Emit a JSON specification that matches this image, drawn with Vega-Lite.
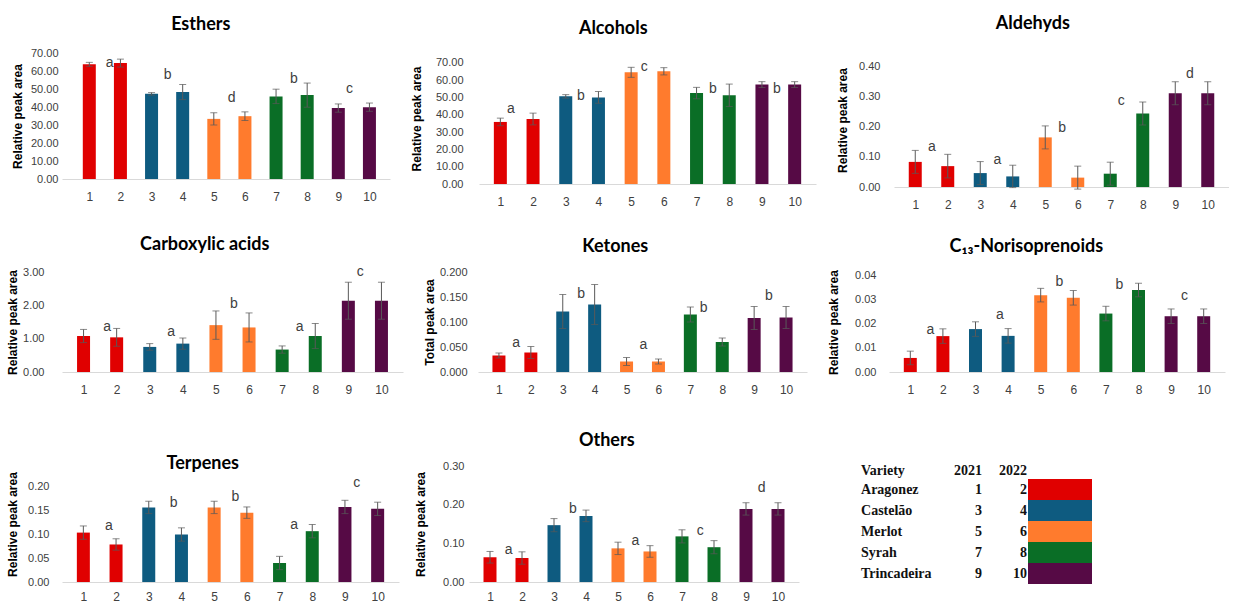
{
"$schema": "https://vega.github.io/schema/vega-lite/v6.json",
"padding": {"left": 6, "top": 15, "right": 0, "bottom": 0},
"background": "white",
"datasets": {
"bars": [
{"g":"Esthers","s":1,"v":63.7,"e":1.1,"variety":"Aragonez"},{"g":"Esthers","s":2,"v":64.4,"e":2.2,"variety":"Aragonez"},{"g":"Esthers","s":3,"v":47.3,"e":0.7,"variety":"Castelão"},{"g":"Esthers","s":4,"v":48.3,"e":4.2,"variety":"Castelão"},{"g":"Esthers","s":5,"v":33.4,"e":3.4,"variety":"Merlot"},{"g":"Esthers","s":6,"v":34.9,"e":2.4,"variety":"Merlot"},{"g":"Esthers","s":7,"v":45.9,"e":4.0,"variety":"Syrah"},{"g":"Esthers","s":8,"v":46.6,"e":6.7,"variety":"Syrah"},{"g":"Esthers","s":9,"v":39.4,"e":2.3,"variety":"Trincadeira"},{"g":"Esthers","s":10,"v":39.9,"e":2.3,"variety":"Trincadeira"},
{"g":"Alcohols","s":1,"v":35.9,"e":2.2,"variety":"Aragonez"},{"g":"Alcohols","s":2,"v":37.6,"e":3.4,"variety":"Aragonez"},{"g":"Alcohols","s":3,"v":50.7,"e":1.0,"variety":"Castelão"},{"g":"Alcohols","s":4,"v":50.1,"e":3.4,"variety":"Castelão"},{"g":"Alcohols","s":5,"v":64.6,"e":2.9,"variety":"Merlot"},{"g":"Alcohols","s":6,"v":65.2,"e":2.1,"variety":"Merlot"},{"g":"Alcohols","s":7,"v":52.6,"e":3.3,"variety":"Syrah"},{"g":"Alcohols","s":8,"v":51.3,"e":6.5,"variety":"Syrah"},{"g":"Alcohols","s":9,"v":57.5,"e":1.7,"variety":"Trincadeira"},{"g":"Alcohols","s":10,"v":57.5,"e":1.7,"variety":"Trincadeira"},
{"g":"Aldehyds","s":1,"v":0.083,"e":0.038,"variety":"Aragonez"},{"g":"Aldehyds","s":2,"v":0.069,"e":0.039,"variety":"Aragonez"},{"g":"Aldehyds","s":3,"v":0.046,"e":0.038,"variety":"Castelão"},{"g":"Aldehyds","s":4,"v":0.035,"e":0.037,"variety":"Castelão"},{"g":"Aldehyds","s":5,"v":0.164,"e":0.038,"variety":"Merlot"},{"g":"Aldehyds","s":6,"v":0.031,"e":0.038,"variety":"Merlot"},{"g":"Aldehyds","s":7,"v":0.044,"e":0.038,"variety":"Syrah"},{"g":"Aldehyds","s":8,"v":0.243,"e":0.038,"variety":"Syrah"},{"g":"Aldehyds","s":9,"v":0.31,"e":0.038,"variety":"Trincadeira"},{"g":"Aldehyds","s":10,"v":0.31,"e":0.038,"variety":"Trincadeira"},
{"g":"Carboxylic","s":1,"v":1.09,"e":0.2,"variety":"Aragonez"},{"g":"Carboxylic","s":2,"v":1.05,"e":0.27,"variety":"Aragonez"},{"g":"Carboxylic","s":3,"v":0.76,"e":0.1,"variety":"Castelão"},{"g":"Carboxylic","s":4,"v":0.86,"e":0.17,"variety":"Castelão"},{"g":"Carboxylic","s":5,"v":1.42,"e":0.43,"variety":"Merlot"},{"g":"Carboxylic","s":6,"v":1.35,"e":0.44,"variety":"Merlot"},{"g":"Carboxylic","s":7,"v":0.68,"e":0.11,"variety":"Syrah"},{"g":"Carboxylic","s":8,"v":1.09,"e":0.38,"variety":"Syrah"},{"g":"Carboxylic","s":9,"v":2.16,"e":0.56,"variety":"Trincadeira"},{"g":"Carboxylic","s":10,"v":2.16,"e":0.56,"variety":"Trincadeira"},
{"g":"Ketones","s":1,"v":0.033,"e":0.005,"variety":"Aragonez"},{"g":"Ketones","s":2,"v":0.039,"e":0.012,"variety":"Aragonez"},{"g":"Ketones","s":3,"v":0.121,"e":0.034,"variety":"Castelão"},{"g":"Ketones","s":4,"v":0.135,"e":0.04,"variety":"Castelão"},{"g":"Ketones","s":5,"v":0.021,"e":0.008,"variety":"Merlot"},{"g":"Ketones","s":6,"v":0.021,"e":0.005,"variety":"Merlot"},{"g":"Ketones","s":7,"v":0.115,"e":0.015,"variety":"Syrah"},{"g":"Ketones","s":8,"v":0.06,"e":0.008,"variety":"Syrah"},{"g":"Ketones","s":9,"v":0.108,"e":0.023,"variety":"Trincadeira"},{"g":"Ketones","s":10,"v":0.109,"e":0.022,"variety":"Trincadeira"},
{"g":"C13","s":1,"v":0.0058,"e":0.0028,"variety":"Aragonez"},{"g":"C13","s":2,"v":0.0148,"e":0.003,"variety":"Aragonez"},{"g":"C13","s":3,"v":0.0177,"e":0.003,"variety":"Castelão"},{"g":"C13","s":4,"v":0.0149,"e":0.003,"variety":"Castelão"},{"g":"C13","s":5,"v":0.0317,"e":0.0028,"variety":"Merlot"},{"g":"C13","s":6,"v":0.0306,"e":0.003,"variety":"Merlot"},{"g":"C13","s":7,"v":0.0241,"e":0.003,"variety":"Syrah"},{"g":"C13","s":8,"v":0.0338,"e":0.0028,"variety":"Syrah"},{"g":"C13","s":9,"v":0.023,"e":0.003,"variety":"Trincadeira"},{"g":"C13","s":10,"v":0.023,"e":0.003,"variety":"Trincadeira"},
{"g":"Terpenes","s":1,"v":0.104,"e":0.014,"variety":"Aragonez"},{"g":"Terpenes","s":2,"v":0.079,"e":0.012,"variety":"Aragonez"},{"g":"Terpenes","s":3,"v":0.157,"e":0.013,"variety":"Castelão"},{"g":"Terpenes","s":4,"v":0.1,"e":0.014,"variety":"Castelão"},{"g":"Terpenes","s":5,"v":0.157,"e":0.013,"variety":"Merlot"},{"g":"Terpenes","s":6,"v":0.146,"e":0.012,"variety":"Merlot"},{"g":"Terpenes","s":7,"v":0.04,"e":0.014,"variety":"Syrah"},{"g":"Terpenes","s":8,"v":0.107,"e":0.014,"variety":"Syrah"},{"g":"Terpenes","s":9,"v":0.158,"e":0.014,"variety":"Trincadeira"},{"g":"Terpenes","s":10,"v":0.154,"e":0.014,"variety":"Trincadeira"},
{"g":"Others","s":1,"v":0.064,"e":0.015,"variety":"Aragonez"},{"g":"Others","s":2,"v":0.062,"e":0.016,"variety":"Aragonez"},{"g":"Others","s":3,"v":0.147,"e":0.017,"variety":"Castelão"},{"g":"Others","s":4,"v":0.171,"e":0.015,"variety":"Castelão"},{"g":"Others","s":5,"v":0.087,"e":0.016,"variety":"Merlot"},{"g":"Others","s":6,"v":0.079,"e":0.015,"variety":"Merlot"},{"g":"Others","s":7,"v":0.118,"e":0.017,"variety":"Syrah"},{"g":"Others","s":8,"v":0.09,"e":0.017,"variety":"Syrah"},{"g":"Others","s":9,"v":0.189,"e":0.016,"variety":"Trincadeira"},{"g":"Others","s":10,"v":0.189,"e":0.016,"variety":"Trincadeira"}
],
"letters": [
{"g":"Esthers","x":1.65,"y":64.4,"t":"a"},{"g":"Esthers","x":3.52,"y":58,"t":"b"},{"g":"Esthers","x":5.57,"y":45,"t":"d"},{"g":"Esthers","x":7.57,"y":55.3,"t":"b"},{"g":"Esthers","x":9.36,"y":50,"t":"c"},
{"g":"Alcohols","x":1.32,"y":43.6,"t":"a"},{"g":"Alcohols","x":3.46,"y":50.7,"t":"b"},{"g":"Alcohols","x":5.4,"y":67.7,"t":"c"},{"g":"Alcohols","x":7.5,"y":55.1,"t":"b"},{"g":"Alcohols","x":9.46,"y":55.1,"t":"b"},
{"g":"Aldehyds","x":1.51,"y":0.131,"t":"a"},{"g":"Aldehyds","x":3.53,"y":0.088,"t":"a"},{"g":"Aldehyds","x":5.52,"y":0.194,"t":"b"},{"g":"Aldehyds","x":7.34,"y":0.285,"t":"c"},{"g":"Aldehyds","x":9.45,"y":0.375,"t":"d"},
{"g":"Carboxylic","x":1.71,"y":1.37,"t":"a"},{"g":"Carboxylic","x":3.65,"y":1.2,"t":"a"},{"g":"Carboxylic","x":5.54,"y":2.06,"t":"b"},{"g":"Carboxylic","x":7.53,"y":1.37,"t":"a"},{"g":"Carboxylic","x":9.36,"y":3.02,"t":"c"},
{"g":"Ketones","x":1.54,"y":0.059,"t":"a"},{"g":"Ketones","x":3.58,"y":0.157,"t":"b"},{"g":"Ketones","x":5.53,"y":0.055,"t":"a"},{"g":"Ketones","x":7.42,"y":0.128,"t":"b"},{"g":"Ketones","x":9.46,"y":0.152,"t":"b"},
{"g":"C13","x":1.62,"y":0.0175,"t":"a"},{"g":"C13","x":3.75,"y":0.0234,"t":"a"},{"g":"C13","x":5.57,"y":0.0372,"t":"b"},{"g":"C13","x":7.41,"y":0.0359,"t":"b"},{"g":"C13","x":9.41,"y":0.0313,"t":"c"},
{"g":"Terpenes","x":1.78,"y":0.117,"t":"a"},{"g":"Terpenes","x":3.76,"y":0.166,"t":"b"},{"g":"Terpenes","x":5.65,"y":0.179,"t":"b"},{"g":"Terpenes","x":7.45,"y":0.12,"t":"a"},{"g":"Terpenes","x":9.36,"y":0.208,"t":"c"},
{"g":"Others","x":1.58,"y":0.083,"t":"a"},{"g":"Others","x":3.59,"y":0.19,"t":"b"},{"g":"Others","x":5.54,"y":0.105,"t":"a"},{"g":"Others","x":7.57,"y":0.131,"t":"c"},{"g":"Others","x":9.49,"y":0.243,"t":"d"}
],
"legend": [
{"variety":"Aragonez","a":"1","b":"2"},
{"variety":"Castelão","a":"3","b":"4"},
{"variety":"Merlot","a":"5","b":"6"},
{"variety":"Syrah","a":"7","b":"8"},
{"variety":"Trincadeira","a":"9","b":"10"}
]
},
"vconcat": [
{"vconcat": [
{"hconcat": [
{"width": 328, "height": 126, "title": {"text": "Esthers", "offset": 13.5},
 "layer": [
 {"data": {"name": "bars"}, "transform": [{"filter": "datum.g === 'Esthers'"}], "mark": {"type": "bar", "width": 13},
  "encoding": {
   "x": {"field": "s", "type": "quantitative", "title": null, "scale": {"domain": [0.2836, 10.5], "nice": false, "zero": false}, "axis": {"values": [1,2,3,4,5,6,7,8,9,10], "tickCount": 20, "format": "d", "labelOverlap": false}},
   "y": {"field": "v", "type": "quantitative", "title": "Relative peak area", "scale": {"domain": [0, 70], "nice": false}, "axis": {"values": [0,10,20,30,40,50,60,70], "tickCount": 20, "format": ".2f", "labelOverlap": false, "labelPadding": 4, "titlePadding": 6}},
   "color": {"field": "variety", "type": "nominal", "scale": {"domain": ["Aragonez","Castelão","Merlot","Syrah","Trincadeira"], "range": ["#E00000","#0E5B80","#FF7B2D","#0A6E26","#560A45"]}, "legend": null}}},
 {"data": {"name": "bars"}, "transform": [{"filter": "datum.g === 'Esthers'"}], "mark": {"type": "errorbar", "color": "#595959", "thickness": 1, "ticks": {"size": 7}},
  "encoding": {
   "x": {"field": "s", "type": "quantitative", "title": null, "scale": {"domain": [0.2836, 10.5], "nice": false, "zero": false}},
   "y": {"field": "v", "type": "quantitative", "title": "Relative peak area", "scale": {"domain": [0, 70], "nice": false}},
   "yError": {"field": "e"}}},
 {"data": {"name": "letters"}, "transform": [{"filter": "datum.g === 'Esthers'"}], "mark": {"type": "text", "fontSize": 14, "color": "#404040", "baseline": "middle"},
  "encoding": {
   "x": {"field": "x", "type": "quantitative", "title": null, "scale": {"domain": [0.2836, 10.5], "nice": false, "zero": false}},
   "y": {"field": "y", "type": "quantitative", "title": "Relative peak area", "scale": {"domain": [0, 70], "nice": false}},
   "text": {"field": "t"}}}
 ]},
{"width": 337, "height": 131, "title": {"text": "Alcohols", "offset": 15},
 "layer": [
 {"data": {"name": "bars"}, "transform": [{"filter": "datum.g === 'Alcohols'"}], "mark": {"type": "bar", "width": 13},
  "encoding": {
   "x": {"field": "s", "type": "quantitative", "title": null, "scale": {"domain": [0.5, 10.5], "nice": false, "zero": false}, "axis": {"values": [1,2,3,4,5,6,7,8,9,10], "tickCount": 20, "format": "d", "labelOverlap": false}},
   "y": {"field": "v", "type": "quantitative", "title": "Relative peak area", "scale": {"domain": [0, 75.78], "nice": false}, "axis": {"values": [0,10,20,30,40,50,60,70], "tickCount": 20, "format": ".2f", "labelOverlap": false, "labelPadding": 16, "titlePadding": 12}},
   "color": {"field": "variety", "type": "nominal", "scale": {"domain": ["Aragonez","Castelão","Merlot","Syrah","Trincadeira"], "range": ["#E00000","#0E5B80","#FF7B2D","#0A6E26","#560A45"]}, "legend": null}}},
 {"data": {"name": "bars"}, "transform": [{"filter": "datum.g === 'Alcohols'"}], "mark": {"type": "errorbar", "color": "#595959", "thickness": 1, "ticks": {"size": 7}},
  "encoding": {
   "x": {"field": "s", "type": "quantitative", "title": null, "scale": {"domain": [0.5, 10.5], "nice": false, "zero": false}},
   "y": {"field": "v", "type": "quantitative", "title": "Relative peak area", "scale": {"domain": [0, 75.78], "nice": false}},
   "yError": {"field": "e"}}},
 {"data": {"name": "letters"}, "transform": [{"filter": "datum.g === 'Alcohols'"}], "mark": {"type": "text", "fontSize": 14, "color": "#404040", "baseline": "middle"},
  "encoding": {
   "x": {"field": "x", "type": "quantitative", "title": null, "scale": {"domain": [0.5, 10.5], "nice": false, "zero": false}},
   "y": {"field": "y", "type": "quantitative", "title": "Relative peak area", "scale": {"domain": [0, 75.78], "nice": false}},
   "text": {"field": "t"}}}
 ]},
{"width": 335, "height": 134, "title": {"text": "Aldehyds", "offset": 20},
 "layer": [
 {"data": {"name": "bars"}, "transform": [{"filter": "datum.g === 'Aldehyds'"}], "mark": {"type": "bar", "width": 13},
  "encoding": {
   "x": {"field": "s", "type": "quantitative", "title": null, "scale": {"domain": [0.5, 10.5], "nice": false, "zero": false}, "axis": {"values": [1,2,3,4,5,6,7,8,9,10], "tickCount": 20, "format": "d", "labelOverlap": false}},
   "y": {"field": "v", "type": "quantitative", "title": "Relative peak area", "scale": {"domain": [0, 0.443], "nice": false}, "axis": {"values": [0,0.1,0.2,0.3,0.4], "tickCount": 20, "format": ".2f", "labelOverlap": false, "labelPadding": 14, "titlePadding": 9}},
   "color": {"field": "variety", "type": "nominal", "scale": {"domain": ["Aragonez","Castelão","Merlot","Syrah","Trincadeira"], "range": ["#E00000","#0E5B80","#FF7B2D","#0A6E26","#560A45"]}, "legend": null}}},
 {"data": {"name": "bars"}, "transform": [{"filter": "datum.g === 'Aldehyds'"}], "mark": {"type": "errorbar", "color": "#595959", "thickness": 1, "ticks": {"size": 7}},
  "encoding": {
   "x": {"field": "s", "type": "quantitative", "title": null, "scale": {"domain": [0.5, 10.5], "nice": false, "zero": false}},
   "y": {"field": "v", "type": "quantitative", "title": "Relative peak area", "scale": {"domain": [0, 0.443], "nice": false}},
   "yError": {"field": "e"}}},
 {"data": {"name": "letters"}, "transform": [{"filter": "datum.g === 'Aldehyds'"}], "mark": {"type": "text", "fontSize": 14, "color": "#404040", "baseline": "middle"},
  "encoding": {
   "x": {"field": "x", "type": "quantitative", "title": null, "scale": {"domain": [0.5, 10.5], "nice": false, "zero": false}},
   "y": {"field": "y", "type": "quantitative", "title": "Relative peak area", "scale": {"domain": [0, 0.443], "nice": false}},
   "text": {"field": "t"}}}
 ]}
], "spacing": 20},
{"hconcat": [
{"width": 341, "height": 100, "title": {"text": "Carboxylic acids", "offset": 11},
 "layer": [
 {"data": {"name": "bars"}, "transform": [{"filter": "datum.g === 'Carboxylic'"}], "mark": {"type": "bar", "width": 13},
  "encoding": {
   "x": {"field": "s", "type": "quantitative", "title": null, "scale": {"domain": [0.5, 10.5], "nice": false, "zero": false}, "axis": {"values": [1,2,3,4,5,6,7,8,9,10], "tickCount": 20, "format": "d", "labelOverlap": false}},
   "y": {"field": "v", "type": "quantitative", "title": "Relative peak area", "scale": {"domain": [0, 3.03], "nice": false}, "axis": {"values": [0,1,2,3], "tickCount": 20, "format": ".2f", "labelOverlap": false, "labelPadding": 18, "titlePadding": 3}},
   "color": {"field": "variety", "type": "nominal", "scale": {"domain": ["Aragonez","Castelão","Merlot","Syrah","Trincadeira"], "range": ["#E00000","#0E5B80","#FF7B2D","#0A6E26","#560A45"]}, "legend": null}}},
 {"data": {"name": "bars"}, "transform": [{"filter": "datum.g === 'Carboxylic'"}], "mark": {"type": "errorbar", "color": "#595959", "thickness": 1, "ticks": {"size": 7}},
  "encoding": {
   "x": {"field": "s", "type": "quantitative", "title": null, "scale": {"domain": [0.5, 10.5], "nice": false, "zero": false}},
   "y": {"field": "v", "type": "quantitative", "title": "Relative peak area", "scale": {"domain": [0, 3.03], "nice": false}},
   "yError": {"field": "e"}}},
 {"data": {"name": "letters"}, "transform": [{"filter": "datum.g === 'Carboxylic'"}], "mark": {"type": "text", "fontSize": 14, "color": "#404040", "baseline": "middle"},
  "encoding": {
   "x": {"field": "x", "type": "quantitative", "title": null, "scale": {"domain": [0.5, 10.5], "nice": false, "zero": false}},
   "y": {"field": "y", "type": "quantitative", "title": "Relative peak area", "scale": {"domain": [0, 3.03], "nice": false}},
   "text": {"field": "t"}}}
 ]},
{"width": 329, "height": 100, "title": {"text": "Ketones", "offset": 10},
 "layer": [
 {"data": {"name": "bars"}, "transform": [{"filter": "datum.g === 'Ketones'"}], "mark": {"type": "bar", "width": 13},
  "encoding": {
   "x": {"field": "s", "type": "quantitative", "title": null, "scale": {"domain": [0.5, 10.5], "nice": false, "zero": false}, "axis": {"values": [1,2,3,4,5,6,7,8,9,10], "tickCount": 20, "format": "d", "labelOverlap": false}},
   "y": {"field": "v", "type": "quantitative", "title": "Total peak area", "scale": {"domain": [0, 0.2], "nice": false}, "axis": {"values": [0,0.05,0.1,0.15,0.2], "tickCount": 20, "format": ".3f", "labelOverlap": false, "labelPadding": 11, "titlePadding": 3}},
   "color": {"field": "variety", "type": "nominal", "scale": {"domain": ["Aragonez","Castelão","Merlot","Syrah","Trincadeira"], "range": ["#E00000","#0E5B80","#FF7B2D","#0A6E26","#560A45"]}, "legend": null}}},
 {"data": {"name": "bars"}, "transform": [{"filter": "datum.g === 'Ketones'"}], "mark": {"type": "errorbar", "color": "#595959", "thickness": 1, "ticks": {"size": 7}},
  "encoding": {
   "x": {"field": "s", "type": "quantitative", "title": null, "scale": {"domain": [0.5, 10.5], "nice": false, "zero": false}},
   "y": {"field": "v", "type": "quantitative", "title": "Total peak area", "scale": {"domain": [0, 0.2], "nice": false}},
   "yError": {"field": "e"}}},
 {"data": {"name": "letters"}, "transform": [{"filter": "datum.g === 'Ketones'"}], "mark": {"type": "text", "fontSize": 14, "color": "#404040", "baseline": "middle"},
  "encoding": {
   "x": {"field": "x", "type": "quantitative", "title": null, "scale": {"domain": [0.5, 10.5], "nice": false, "zero": false}},
   "y": {"field": "y", "type": "quantitative", "title": "Total peak area", "scale": {"domain": [0, 0.2], "nice": false}},
   "text": {"field": "t"}}}
 ]},
{"width": 336, "height": 100, "title": {"text": "C₁₃-Norisoprenoids", "offset": 13},
 "layer": [
 {"data": {"name": "bars"}, "transform": [{"filter": "datum.g === 'C13'"}], "mark": {"type": "bar", "width": 13},
  "encoding": {
   "x": {"field": "s", "type": "quantitative", "title": null, "scale": {"domain": [0.5, 10.5], "nice": false, "zero": false}, "axis": {"values": [1,2,3,4,5,6,7,8,9,10], "tickCount": 20, "format": "d", "labelOverlap": false}},
   "y": {"field": "v", "type": "quantitative", "title": "Relative peak area", "scale": {"domain": [0, 0.04124], "nice": false}, "axis": {"values": [0,0.01,0.02,0.03,0.04], "tickCount": 20, "format": ".2f", "labelOverlap": false, "labelPadding": 13, "titlePadding": 14}},
   "color": {"field": "variety", "type": "nominal", "scale": {"domain": ["Aragonez","Castelão","Merlot","Syrah","Trincadeira"], "range": ["#E00000","#0E5B80","#FF7B2D","#0A6E26","#560A45"]}, "legend": null}}},
 {"data": {"name": "bars"}, "transform": [{"filter": "datum.g === 'C13'"}], "mark": {"type": "errorbar", "color": "#595959", "thickness": 1, "ticks": {"size": 7}},
  "encoding": {
   "x": {"field": "s", "type": "quantitative", "title": null, "scale": {"domain": [0.5, 10.5], "nice": false, "zero": false}},
   "y": {"field": "v", "type": "quantitative", "title": "Relative peak area", "scale": {"domain": [0, 0.04124], "nice": false}},
   "yError": {"field": "e"}}},
 {"data": {"name": "letters"}, "transform": [{"filter": "datum.g === 'C13'"}], "mark": {"type": "text", "fontSize": 14, "color": "#404040", "baseline": "middle"},
  "encoding": {
   "x": {"field": "x", "type": "quantitative", "title": null, "scale": {"domain": [0.5, 10.5], "nice": false, "zero": false}},
   "y": {"field": "y", "type": "quantitative", "title": "Relative peak area", "scale": {"domain": [0, 0.04124], "nice": false}},
   "text": {"field": "t"}}}
 ]}
], "spacing": 20}
], "spacing": 26},
{"hconcat": [
{"width": 337, "height": 116, "title": {"text": "Terpenes", "offset": -7},
 "layer": [
 {"data": {"name": "bars"}, "transform": [{"filter": "datum.g === 'Terpenes'"}], "mark": {"type": "bar", "width": 13},
  "encoding": {
   "x": {"field": "s", "type": "quantitative", "title": null, "scale": {"domain": [0.5, 10.5], "nice": false, "zero": false}, "axis": {"values": [1,2,3,4,5,6,7,8,9,10], "tickCount": 20, "format": "d", "labelOverlap": false, "labelPadding": 9}},
   "y": {"field": "v", "type": "quantitative", "title": "Relative peak area", "scale": {"domain": [0, 0.2442], "nice": false}, "axis": {"values": [0,0.05,0.1,0.15,0.2], "tickCount": 20, "format": ".2f", "labelOverlap": false, "labelPadding": 13, "titlePadding": 8}},
   "color": {"field": "variety", "type": "nominal", "scale": {"domain": ["Aragonez","Castelão","Merlot","Syrah","Trincadeira"], "range": ["#E00000","#0E5B80","#FF7B2D","#0A6E26","#560A45"]}, "legend": null}}},
 {"data": {"name": "bars"}, "transform": [{"filter": "datum.g === 'Terpenes'"}], "mark": {"type": "errorbar", "color": "#595959", "thickness": 1, "ticks": {"size": 7}},
  "encoding": {
   "x": {"field": "s", "type": "quantitative", "title": null, "scale": {"domain": [0.5, 10.5], "nice": false, "zero": false}},
   "y": {"field": "v", "type": "quantitative", "title": "Relative peak area", "scale": {"domain": [0, 0.2442], "nice": false}},
   "yError": {"field": "e"}}},
 {"data": {"name": "letters"}, "transform": [{"filter": "datum.g === 'Terpenes'"}], "mark": {"type": "text", "fontSize": 14, "color": "#404040", "baseline": "middle"},
  "encoding": {
   "x": {"field": "x", "type": "quantitative", "title": null, "scale": {"domain": [0.5, 10.5], "nice": false, "zero": false}},
   "y": {"field": "y", "type": "quantitative", "title": "Relative peak area", "scale": {"domain": [0, 0.2442], "nice": false}},
   "text": {"field": "t"}}}
 ]},
{"width": 330, "height": 116, "title": {"text": "Others", "offset": 10},
 "layer": [
 {"data": {"name": "bars"}, "transform": [{"filter": "datum.g === 'Others'"}], "mark": {"type": "bar", "width": 13},
  "encoding": {
   "x": {"field": "s", "type": "quantitative", "title": null, "scale": {"domain": [0.5, 10.5], "nice": false, "zero": false}, "axis": {"values": [1,2,3,4,5,6,7,8,9,10], "tickCount": 20, "format": "d", "labelOverlap": false, "labelPadding": 9}},
   "y": {"field": "v", "type": "quantitative", "title": "Relative peak area", "scale": {"domain": [0, 0.3], "nice": false}, "axis": {"values": [0,0.1,0.2,0.3], "tickCount": 20, "format": ".2f", "labelOverlap": false, "labelPadding": 5, "titlePadding": 15}},
   "color": {"field": "variety", "type": "nominal", "scale": {"domain": ["Aragonez","Castelão","Merlot","Syrah","Trincadeira"], "range": ["#E00000","#0E5B80","#FF7B2D","#0A6E26","#560A45"]}, "legend": null}}},
 {"data": {"name": "bars"}, "transform": [{"filter": "datum.g === 'Others'"}], "mark": {"type": "errorbar", "color": "#595959", "thickness": 1, "ticks": {"size": 7}},
  "encoding": {
   "x": {"field": "s", "type": "quantitative", "title": null, "scale": {"domain": [0.5, 10.5], "nice": false, "zero": false}},
   "y": {"field": "v", "type": "quantitative", "title": "Relative peak area", "scale": {"domain": [0, 0.3], "nice": false}},
   "yError": {"field": "e"}}},
 {"data": {"name": "letters"}, "transform": [{"filter": "datum.g === 'Others'"}], "mark": {"type": "text", "fontSize": 14, "color": "#404040", "baseline": "middle"},
  "encoding": {
   "x": {"field": "x", "type": "quantitative", "title": null, "scale": {"domain": [0.5, 10.5], "nice": false, "zero": false}},
   "y": {"field": "y", "type": "quantitative", "title": "Relative peak area", "scale": {"domain": [0, 0.3], "nice": false}},
   "text": {"field": "t"}}}
 ]},
{"width": 278, "height": 118,
 "data": {"name": "legend"},
 "layer": [
 {"mark": {"type": "rect"},
  "encoding": {
   "x": {"datum": "box", "type": "nominal", "scale": {"type": "band", "domain": ["name","c1","c2","box"], "paddingInner": 0, "paddingOuter": 0.172, "align": 1}, "axis": null},
   "y": {"field": "variety", "type": "nominal", "scale": {"type": "band", "domain": ["Aragonez","Castelão","Merlot","Syrah","Trincadeira"], "paddingInner": 0, "paddingOuter": 0.31, "align": 1}, "axis": null},
   "color": {"field": "variety", "type": "nominal", "scale": {"domain": ["Aragonez","Castelão","Merlot","Syrah","Trincadeira"], "range": ["#E00000","#0E5B80","#FF7B2D","#0A6E26","#560A45"]}, "legend": null}}},
 {"mark": {"type": "text", "align": "left", "baseline": "middle", "font": "Liberation Serif", "fontSize": 14, "fontWeight": "bold", "color": "#111111", "dx": 25},
  "encoding": {
   "x": {"datum": "name", "type": "nominal", "bandPosition": 0, "scale": {"type": "band", "domain": ["name","c1","c2","box"], "paddingInner": 0, "paddingOuter": 0.172, "align": 1}, "axis": null},
   "y": {"field": "variety", "type": "nominal", "scale": {"type": "band", "domain": ["Aragonez","Castelão","Merlot","Syrah","Trincadeira"], "paddingInner": 0, "paddingOuter": 0.31, "align": 1}, "axis": null},
   "text": {"field": "variety"}}},
 {"mark": {"type": "text", "align": "right", "baseline": "middle", "font": "Liberation Serif", "fontSize": 14, "fontWeight": "bold", "color": "#111111", "dx": 18},
  "encoding": {
   "x": {"datum": "c1", "type": "nominal", "bandPosition": 1, "scale": {"type": "band", "domain": ["name","c1","c2","box"], "paddingInner": 0, "paddingOuter": 0.172, "align": 1}, "axis": null},
   "y": {"field": "variety", "type": "nominal", "scale": {"type": "band", "domain": ["Aragonez","Castelão","Merlot","Syrah","Trincadeira"], "paddingInner": 0, "paddingOuter": 0.31, "align": 1}, "axis": null},
   "text": {"field": "a"}}},
 {"mark": {"type": "text", "align": "right", "baseline": "middle", "font": "Liberation Serif", "fontSize": 14, "fontWeight": "bold", "color": "#111111", "dx": -1},
  "encoding": {
   "x": {"datum": "c2", "type": "nominal", "bandPosition": 1, "scale": {"type": "band", "domain": ["name","c1","c2","box"], "paddingInner": 0, "paddingOuter": 0.172, "align": 1}, "axis": null},
   "y": {"field": "variety", "type": "nominal", "scale": {"type": "band", "domain": ["Aragonez","Castelão","Merlot","Syrah","Trincadeira"], "paddingInner": 0, "paddingOuter": 0.31, "align": 1}, "axis": null},
   "text": {"field": "b"}}},
 {"data": {"values": [{"h": "Variety"}]}, "mark": {"type": "text", "align": "left", "baseline": "middle", "font": "Liberation Serif", "fontSize": 14, "fontWeight": "bold", "color": "#111111", "dx": 25, "dy": -19},
  "encoding": {
   "x": {"datum": "name", "type": "nominal", "bandPosition": 0, "scale": {"type": "band", "domain": ["name","c1","c2","box"], "paddingInner": 0, "paddingOuter": 0.172, "align": 1}, "axis": null},
   "y": {"datum": "Aragonez", "type": "nominal", "scale": {"type": "band", "domain": ["Aragonez","Castelão","Merlot","Syrah","Trincadeira"], "paddingInner": 0, "paddingOuter": 0.31, "align": 1}, "axis": null},
   "text": {"field": "h"}}},
 {"data": {"values": [{"h": "2021"}]}, "mark": {"type": "text", "align": "right", "baseline": "middle", "font": "Liberation Serif", "fontSize": 14, "fontWeight": "bold", "color": "#111111", "dx": 18, "dy": -19},
  "encoding": {
   "x": {"datum": "c1", "type": "nominal", "bandPosition": 1, "scale": {"type": "band", "domain": ["name","c1","c2","box"], "paddingInner": 0, "paddingOuter": 0.172, "align": 1}, "axis": null},
   "y": {"datum": "Aragonez", "type": "nominal", "scale": {"type": "band", "domain": ["Aragonez","Castelão","Merlot","Syrah","Trincadeira"], "paddingInner": 0, "paddingOuter": 0.31, "align": 1}, "axis": null},
   "text": {"field": "h"}}},
 {"data": {"values": [{"h": "2022"}]}, "mark": {"type": "text", "align": "right", "baseline": "middle", "font": "Liberation Serif", "fontSize": 14, "fontWeight": "bold", "color": "#111111", "dx": -1, "dy": -19},
  "encoding": {
   "x": {"datum": "c2", "type": "nominal", "bandPosition": 1, "scale": {"type": "band", "domain": ["name","c1","c2","box"], "paddingInner": 0, "paddingOuter": 0.172, "align": 1}, "axis": null},
   "y": {"datum": "Aragonez", "type": "nominal", "scale": {"type": "band", "domain": ["Aragonez","Castelão","Merlot","Syrah","Trincadeira"], "paddingInner": 0, "paddingOuter": 0.31, "align": 1}, "axis": null},
   "text": {"field": "h"}}}
 ]}
], "spacing": 15}
],
"spacing": 37,
"config": {
 "view": {"stroke": null},
 "font": "Liberation Sans",
 "title": {"font": "Lato", "fontSize": 18, "fontWeight": "bold", "color": "#000000", "anchor": "middle", "frame": "bounds"},
 "axisX": {"domainColor": "#d9d9d9", "domainWidth": 1, "ticks": false, "grid": false, "labelFontSize": 12, "labelColor": "#404040", "labelPadding": 12, "labelFlush": false, "labelOverlap": false},
 "axisY": {"domain": false, "ticks": false, "grid": false, "labelFontSize": 11, "labelColor": "#404040", "labelOverlap": false, "titleFontSize": 12, "titleFontWeight": "bold", "titleColor": "#000000"}
}
}
